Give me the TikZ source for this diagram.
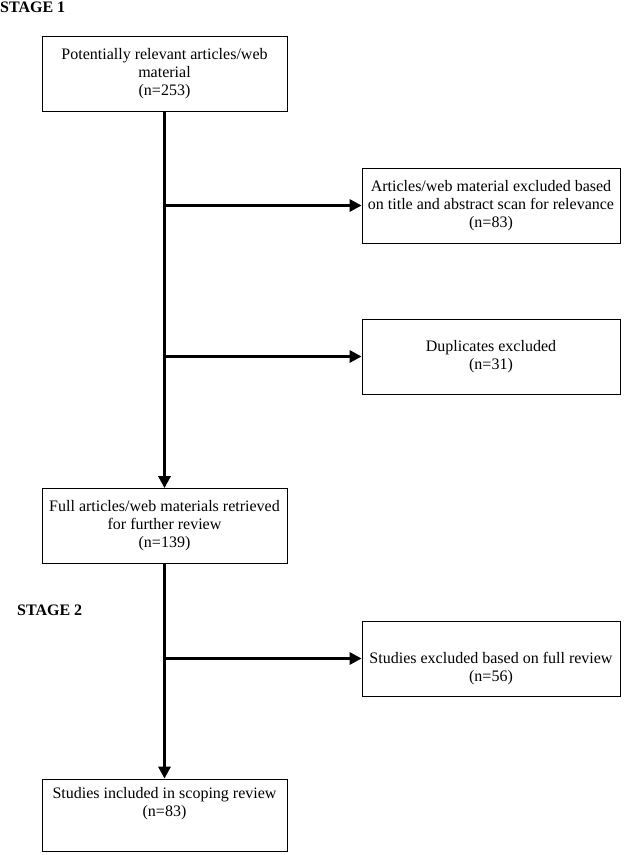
\documentclass[tikz,border=0pt]{standalone}
\usepackage{fontspec}
\setmainfont{Liberation Serif}
\usepackage{tikz}
\usetikzlibrary{arrows.meta}

\begin{document}
\begin{tikzpicture}[x=1pt,y=-1pt]
	\useasboundingbox (0,0) rectangle (627,855);

	\begin{scope}[every node/.style={inner sep=0pt,font=\fontsize{16}{18}\selectfont\bfseries}]
	    \node[anchor=west] (s1) at (0,7.5) {STAGE 1};
	    \node[anchor=west] (s2) at (17,610) {STAGE 2};
	\end{scope}

	\begin{scope}[every node/.style={rectangle,draw,line width=0.8pt,inner sep=0pt,
	              minimum height=75pt,align=center,font=\fontsize{16}{18}\selectfont}]
	    \node[minimum width=245pt] (253) at (164.5,73.5) {Potentially relevant articles/web\\material\\(n=253)};
	    \node[minimum width=258pt] (83x) at (491,205.5) {Articles/web material excluded based\\on title and abstract scan for relevance\\(n=83)};
	    \node[minimum width=258pt] (31) at (491,356.5) {Duplicates excluded\\(n=31)};
	    \node[minimum width=245pt] (139) at (164.5,526) {Full articles/web materials retrieved\\for further review\\(n=139)};
	    \node[minimum width=258pt,text height=50pt] (56) at (491,658.5) {Studies excluded based on full review\\(n=56)};
	    \node[minimum width=245pt,minimum height=72pt,text depth=26pt] (83) at (164.5,815) {Studies included in scoping review\\(n=83)};
	\end{scope}

	\coordinate (b1) at (83x.west -| 253.south);
	\coordinate (b2) at (31.west -| 253.south);
	\coordinate (b3) at (56.west -| 139.south);

	\begin{scope}[>={Triangle[length=12pt,width=12pt]},
	              every edge/.style={draw=black,line width=3pt,->}]
	    \path (253) edge (139);
	    \path (139) edge (83);
	    \path (b1) edge (83x);
	    \path (b2) edge (31);
	    \path (b3) edge (56);
	\end{scope}
\end{tikzpicture}
\end{document}
